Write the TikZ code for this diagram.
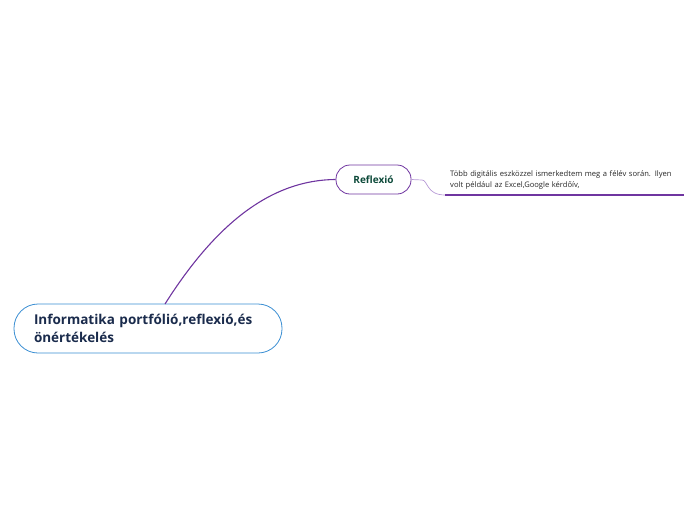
\documentclass[tikz,border=0pt]{standalone}
\usepackage{fontspec}
\setmainfont{Open Sans}
\usepackage{xcolor}
\usetikzlibrary{arrows.meta,positioning,calc}

\definecolor{topicblue}{HTML}{3A8ED3}
\definecolor{topicnavy}{HTML}{1A2B4C}
\definecolor{branchpurple}{HTML}{6F35A0}
\definecolor{leafpurple}{HTML}{B79AD6}
\definecolor{subgreen}{HTML}{0D4A3A}

\begin{document}
\begin{tikzpicture}[
  x=1pt,y=-1pt,
  central/.style={draw=topicblue,line width=0.8pt,fill=white,rounded corners=24pt,
    minimum width=268pt,minimum height=49pt,text width=228pt,align=left,
    font=\bfseries\fontsize{13.5}{17.5}\selectfont,text=topicnavy,inner sep=0pt},
  subtopic/.style={draw=branchpurple,line width=0.8pt,fill=white,rounded corners=14pt,
    minimum width=75pt,minimum height=29pt,font=\bfseries\fontsize{10}{12}\selectfont,
    text=subgreen,inner sep=0pt},
  note/.style={align=left,text width=230pt,inner sep=0pt,
    font=\fontsize{7.6}{11}\selectfont,text=black!85},
  branch/.style={draw=branchpurple,line width=1.1pt},
  twig/.style={draw=leafpurple,line width=0.7pt}
]

\useasboundingbox (0,0) rectangle (696,520);

\node[central] (main) at (148,328.5) {Informatika portfólió,reflexió,és\\önértékelés};

\node[subtopic] (refl) at (373.5,179.5) {Reflexió};

\node[note,anchor=north west] (txt) at (450,170.5) {Több digitális eszközzel ismerkedtem meg a félév során. Ilyen\\volt például az Excel,Google kérdőív,};
\coordinate (lineL) at (445,195);
\coordinate (lineR) at (684,195);

\draw[branch] (165,304) .. controls (215,225) and (270,180) .. (refl.west);

\draw[twig] (refl.east) -- (422,180) .. controls (428,180) and (426,195) .. (lineL);
\draw[branch,line width=1.4pt] (lineL) -- (lineR);

\end{tikzpicture}
\end{document}
